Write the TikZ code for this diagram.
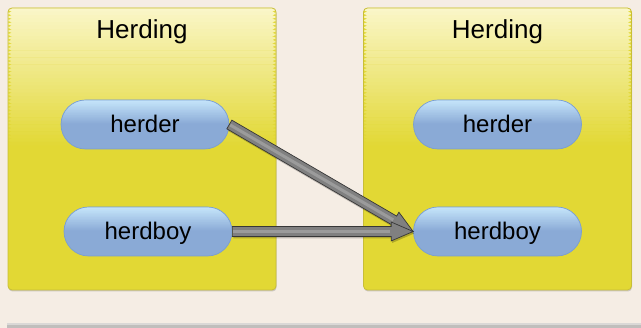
\documentclass[tikz,border=0pt]{standalone}
\usepackage{fontspec}
\setmainfont{Liberation Sans}
\usetikzlibrary{calc,shapes.misc,shadows}

\definecolor{paper}{RGB}{245,237,228}
\definecolor{boxtop}{RGB}{250,246,200}
\definecolor{boxbot}{RGB}{226,216,52}
\definecolor{boxedge}{RGB}{200,190,55}
\definecolor{pilltop}{RGB}{198,230,251}
\definecolor{pillbot}{RGB}{138,170,214}
\definecolor{pilledge}{RGB}{122,158,208}
\definecolor{arrowfill}{RGB}{128,128,128}
\definecolor{arrowlight}{RGB}{155,155,155}
\definecolor{arrowedge}{RGB}{55,55,55}
\definecolor{bartop}{RGB}{218,216,214}
\definecolor{barbot}{RGB}{192,190,188}

\tikzset{
  % fill with the lower colour, then fade to the upper colour over the top half
  halfshade/.style 2 args={fill=#2,
    path picture={
      \foreach \i in {0,...,39}{
        \pgfmathsetmacro\fa{\i/40}
        \pgfmathsetmacro\fb{(\i+1.1)/40}
        \pgfmathtruncatemacro\pct{100-\i*100/39}
        \fill[#1!\pct!#2]
          ($(path picture bounding box.north west)!\fa!(path picture bounding box.west)$)
          rectangle
          ($(path picture bounding box.north east)!\fb!(path picture bounding box.east)$);
      }}},
  group/.style={draw=boxedge, line width=0.8pt, rounded corners=4pt,
    halfshade={boxtop}{boxbot},
    minimum width=268pt, minimum height=282pt, inner sep=0pt,
    drop shadow={shadow xshift=0.5pt, shadow yshift=-1.5pt, opacity=0.35}},
  grouptitle/.style={anchor=base, inner sep=0pt, font=\fontsize{26}{30}\selectfont},
  pill/.style={rounded rectangle, draw=pilledge, line width=0.7pt,
    halfshade={pilltop}{pillbot},
    minimum width=168pt, minimum height=49pt, inner sep=0pt,
    text height=17pt, text depth=0pt, font=\fontsize{24}{28}\selectfont},
  arrowbody/.style={fill=arrowfill, draw=arrowedge, line width=0.7pt, line join=miter},
  arrowshade/.style={fill=black, opacity=0.22, draw=none,
    transform canvas={shift={(1pt,-2pt)}}},
  arrowshine/.style={draw=arrowlight, line width=3pt}
}

% thick block arrow from #1 to #2
\newcommand\fatarrow[2]{%
  \coordinate (fa-b) at ($(#2)!22pt!(#1)$);
  \foreach \sty in {arrowshade,arrowbody}{
    \path[\sty] ($(#1)!5pt!90:(#2)$) -- ($(fa-b)!5pt!90:(#2)$)
      -- ($(fa-b)!9.5pt!90:(#2)$) -- (#2)
      -- ($(fa-b)!9.5pt!-90:(#2)$) -- ($(fa-b)!5pt!-90:(#2)$)
      -- ($(#1)!5pt!-90:(#2)$) -- cycle;
  }%
  \path[arrowshine] ($(#1)!1pt!(#2)$) -- ($(fa-b)!1pt!(#1)$);
}

\begin{document}
\begin{tikzpicture}[x=1pt,y=1pt]
  \fill[paper] (0,0) rectangle (641,328);
  \useasboundingbox (0,0) rectangle (641,328);

  % bottom strip
  \fill[barbot] (7,0) rectangle (641,5);
  \fill[bartop] (7,3) rectangle (641,5);

  % the two groups
  \node[group] (lgroup) at (142,179) {};
  \node[group] (rgroup) at (497.5,179) {};
  \node[grouptitle] (ltitle) at (142,289) {Herding};
  \node[grouptitle] (rtitle) at (497.5,289) {Herding};

  % members
  \node[pill] (lherder)  at (145,203.5) {herder};
  \node[pill] (lherdboy) at (148,96.5) {herdboy};
  \node[pill] (rherder)  at (497.5,203.5) {herder};
  \node[pill] (rherdboy) at (497.5,96.5) {herdboy};

  % mappings
  \fatarrow{lherder.east}{rherdboy.west}
  \fatarrow{lherdboy.east}{rherdboy.west}
\end{tikzpicture}
\end{document}
